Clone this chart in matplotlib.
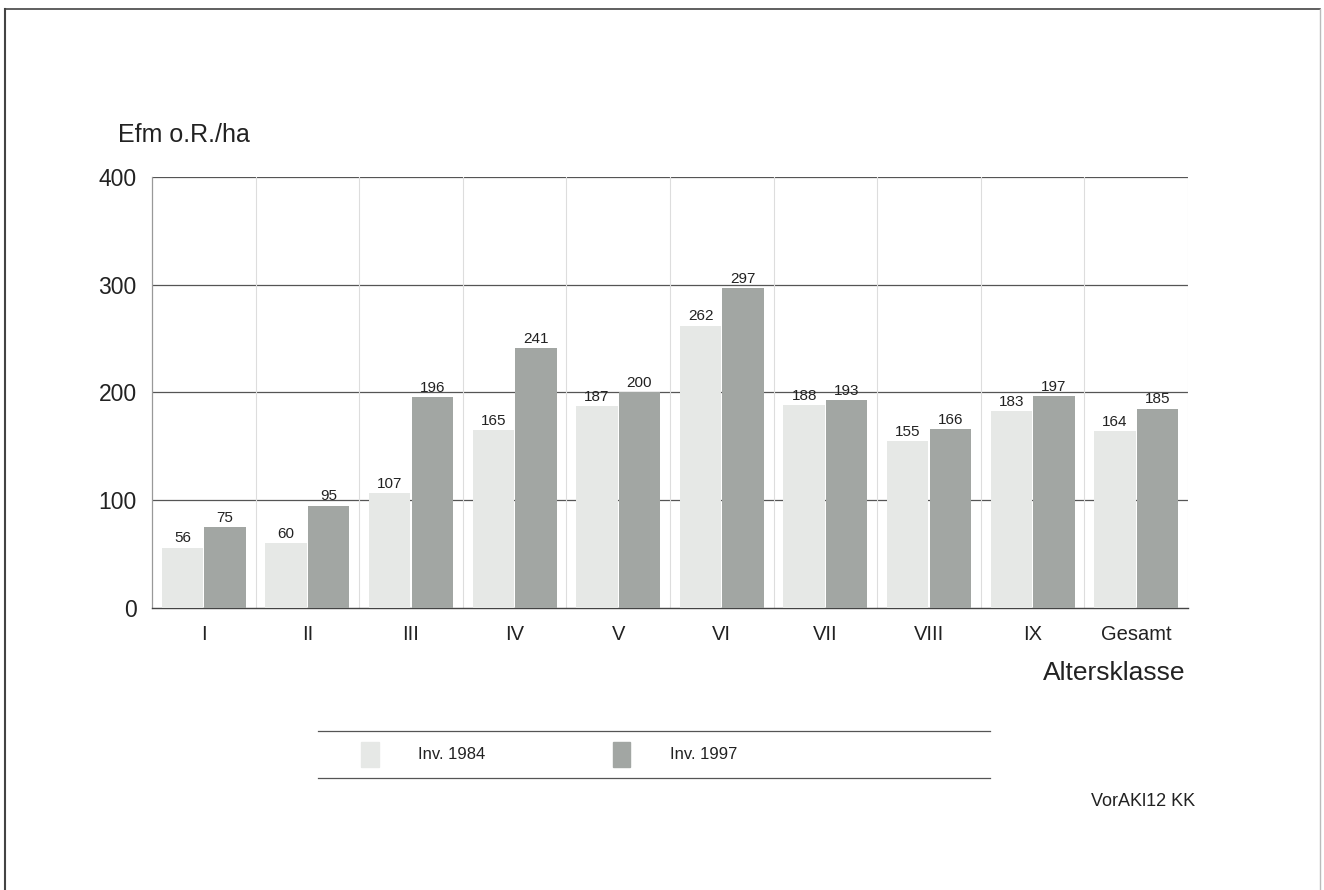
import numpy as np
import matplotlib.pyplot as plt
from matplotlib.patches import Rectangle
from matplotlib.lines import Line2D

# Vorrat je Altersklasse, Efm o.R./ha
klassen = ['I', 'II', 'III', 'IV', 'V', 'VI', 'VII', 'VIII', 'IX', 'Gesamt']
inv_1984 = [56, 60, 107, 165, 187, 262, 188, 155, 183, 164]
inv_1997 = [75, 95, 196, 241, 200, 297, 193, 166, 197, 185]

hell = '#e6e8e6'
dunkel = '#a2a6a3'

plt.rcParams['font.family'] = ['Liberation Sans', 'DejaVu Sans']

fig = plt.figure(figsize=(13.24, 8.9), dpi=100)

# Rahmen um die Grafik (unten offen)
fig.add_artist(Line2D([0.004, 0.004], [0.0, 0.99], color='#444444', lw=1.5))
fig.add_artist(Line2D([0.004, 0.997], [0.99, 0.99], color='#444444', lw=1.2))
fig.add_artist(Line2D([0.997, 0.997], [0.0, 0.99], color='#bbbbbb', lw=1.0))

ax = fig.add_axes([0.1148, 0.3169, 0.7825, 0.4843])

x = np.arange(len(klassen))
b = 0.4
d = 0.205
ax.bar(x - d, inv_1984, b, color=hell, zorder=3)
ax.bar(x + d, inv_1997, b, color=dunkel, zorder=3)

for i in range(len(klassen)):
    ax.text(x[i] - d, inv_1984[i] + 2, str(inv_1984[i]), ha='center', va='bottom',
            fontsize=11, color='#222222', zorder=4)
    ax.text(x[i] + d, inv_1997[i] + 2, str(inv_1997[i]), ha='center', va='bottom',
            fontsize=11, color='#222222', zorder=4)

ax.set_xlim(-0.5, 9.5)
ax.set_ylim(0, 400)
ax.set_yticks([0, 100, 200, 300, 400])
ax.set_xticks(x)
ax.set_xticklabels(klassen, fontsize=14.5, color='#222222')
ax.tick_params(axis='y', labelsize=16.5, length=0, pad=11, labelcolor='#222222')
ax.tick_params(axis='x', length=0, pad=12)

# Gitternetz
for yv in [100, 200, 300, 400]:
    ax.axhline(yv, color='#555555', lw=0.9, zorder=1)
for xv in np.arange(0.5, 9.5, 1.0):
    ax.axvline(xv, color='#dddddd', lw=0.8, zorder=1)
ax.axvline(9.5, color='#dddddd', lw=0.8, zorder=1)

for s in ['top', 'right']:
    ax.spines[s].set_visible(False)
ax.spines['left'].set_color('#999999')
ax.spines['left'].set_linewidth(0.9)
ax.spines['bottom'].set_color('#444444')
ax.spines['bottom'].set_linewidth(1.0)

fig.text(0.089, 0.848, 'Efm o.R./ha', fontsize=18, color='#222222', va='center')
fig.text(0.895, 0.244, 'Altersklasse', fontsize=19, color='#222222', ha='right', va='center')

# Legende zwischen zwei Linien
fig.add_artist(Line2D([0.24, 0.748], [0.179, 0.179], color='#555555', lw=0.9))
fig.add_artist(Line2D([0.24, 0.748], [0.126, 0.126], color='#555555', lw=0.9))
fig.add_artist(Rectangle((0.273, 0.138), 0.013, 0.028, color=hell, transform=fig.transFigure))
fig.text(0.316, 0.152, 'Inv. 1984', fontsize=12, color='#222222', va='center')
fig.add_artist(Rectangle((0.463, 0.138), 0.013, 0.028, color=dunkel, transform=fig.transFigure))
fig.text(0.506, 0.152, 'Inv. 1997', fontsize=12, color='#222222', va='center')

fig.text(0.903, 0.099, 'VorAKl12 KK', fontsize=13, color='#222222', ha='right', va='center')

plt.savefig('out.png', dpi=100)
